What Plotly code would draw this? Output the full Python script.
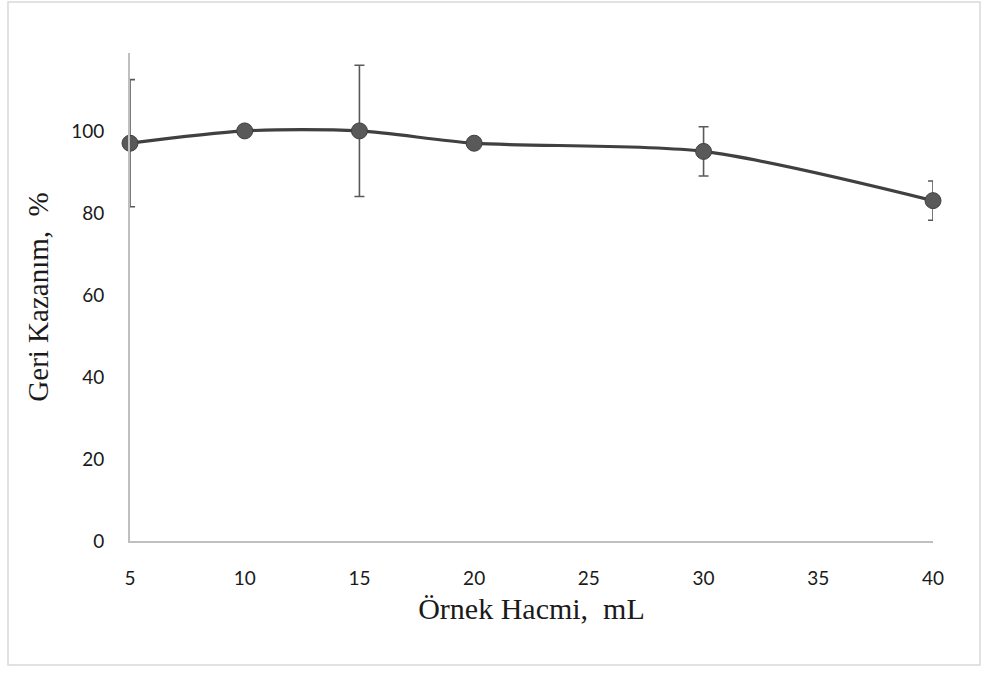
import plotly.graph_objects as go

volume_ml = [5, 10, 15, 20, 30, 40]
recovery_pct = [97, 100, 100, 97, 95, 83]
error_pct = [15.5, 0, 16, 0, 6, 4.8]
x_ticks = [5, 10, 15, 20, 25, 30, 35, 40]
y_ticks = [0, 20, 40, 60, 80, 100]

fig = go.Figure()
fig.add_trace(go.Scatter(
    x=volume_ml, y=recovery_pct,
    mode="lines+markers",
    line=dict(color="#404040", width=3.2, shape="spline", smoothing=0.8),
    marker=dict(size=16, color="#595959", line=dict(color="#404040", width=1)),
    error_y=dict(type="data", array=error_pct, visible=True,
                 color="#595959", thickness=1.6, width=5),
    cliponaxis=False,
    showlegend=False,
))

plot_w = 987 - 130 - 54
plot_h = 673 - 53 - 132

fig.update_layout(
    width=987, height=673,
    margin=dict(l=130, r=54, t=53, b=132),
    paper_bgcolor="white", plot_bgcolor="white",
    xaxis=dict(range=[5, 40], tickvals=x_ticks, showgrid=False, zeroline=False,
               showline=True, linecolor="#bfbfbf", linewidth=2, ticks="",
               ticklabelstandoff=19,
               tickfont=dict(family="Lato, Noto Sans", size=19, color="#1a1a1a"),
               title=dict(text="Örnek Hacmi,  mL", standoff=10,
                          font=dict(family="Liberation Serif", size=30, color="#1a1a1a"))),
    yaxis=dict(range=[0, 119], tickvals=y_ticks, showgrid=False, zeroline=False,
               showline=True, linecolor="#bfbfbf", linewidth=2, ticks="",
               ticklabelstandoff=20,
               tickfont=dict(family="Lato, Noto Sans", size=19, color="#1a1a1a"),
               title=dict(text="Geri Kazanım,  %", standoff=14,
                          font=dict(family="Liberation Serif", size=29, color="#1a1a1a"))),
    shapes=[dict(type="rect", xref="paper", yref="paper",
                 x0=-122/plot_w, x1=(980-130)/plot_w, y0=-(665-541)/plot_h, y1=(541-2)/plot_h,
                 line=dict(color="#d9d9d9", width=1.5), fillcolor="rgba(0,0,0,0)")],
)

fig.write_html("out.html", config={"displayModeBar": False},
               post_script="document.body.style.margin='0';")
